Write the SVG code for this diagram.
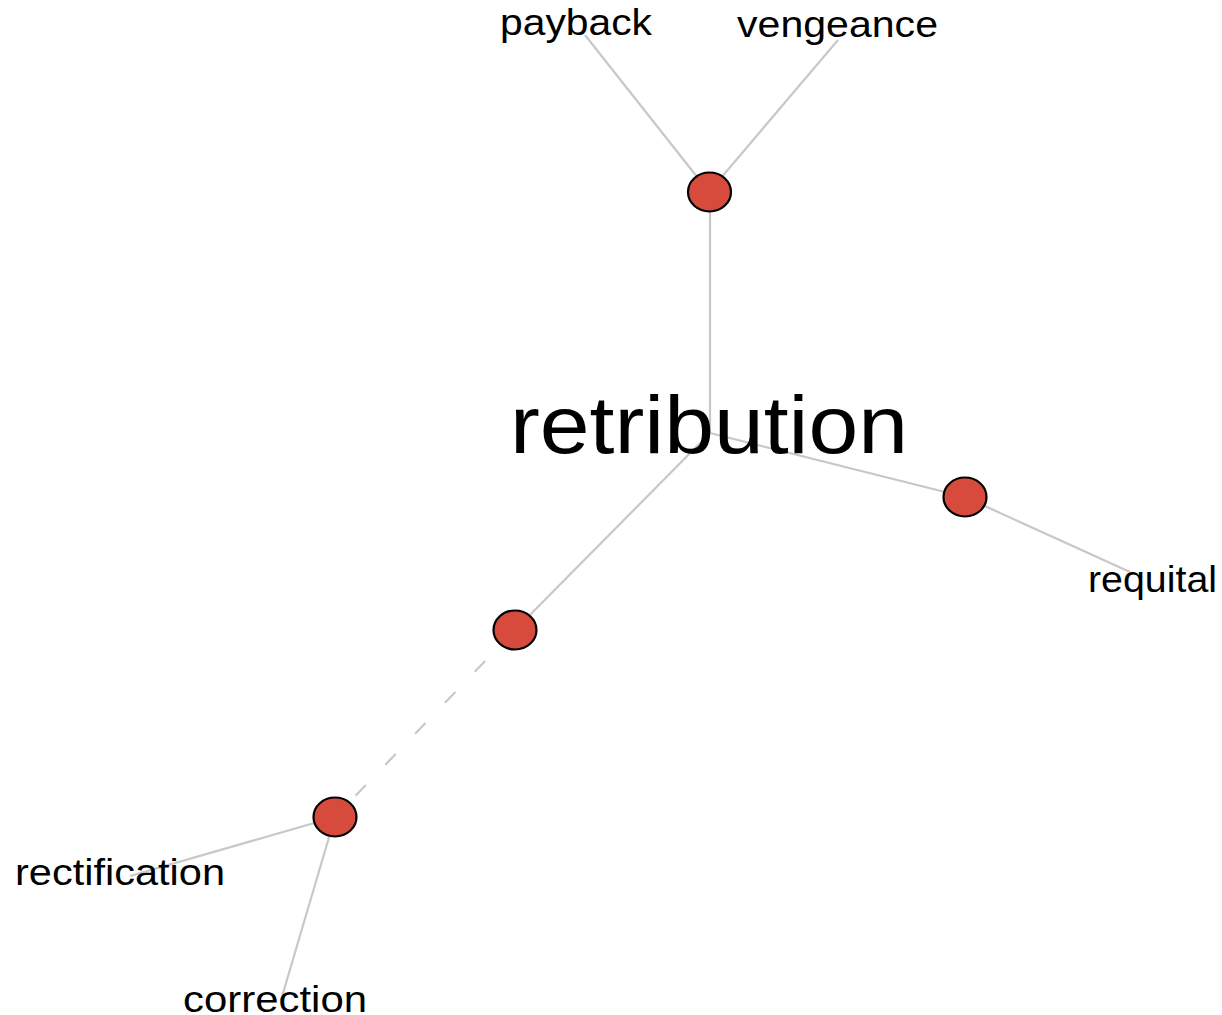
<svg xmlns="http://www.w3.org/2000/svg" width="1222" height="1015" viewBox="0 0 1222 1015">
<style>
.edge{stroke:#c8c8c8;stroke-width:2.2;fill:none}
.dash{stroke-dasharray:15 28}
.node{fill:#d64b3c;stroke:#000;stroke-width:2.2}
.lbl{font-family:"Liberation Sans",Arial,sans-serif;font-size:36px;fill:#000}
.big{font-family:"Liberation Sans",Arial,sans-serif;font-size:82px;fill:#000}
</style>
<rect width="1222" height="1015" fill="#fff"/>
<g id="edges">
<line class="edge" x1="585" y1="35" x2="709" y2="192"/>
<line class="edge" x1="838" y1="40" x2="709" y2="192"/>
<line class="edge" x1="710" y1="192" x2="710" y2="433"/>
<line class="edge" x1="710" y1="433" x2="965" y2="497"/>
<line class="edge" x1="965" y1="497" x2="1130" y2="572"/>
<line class="edge" x1="710" y1="433" x2="515" y2="630"/>
<line class="edge dash" x1="515" y1="630" x2="335" y2="817"/>
<line class="edge" x1="335" y1="817" x2="130" y2="876"/>
<line class="edge" x1="335" y1="817" x2="281" y2="1000"/>
</g>
<g id="n-retribution"><text class="big" x="510" y="453" textLength="398" lengthAdjust="spacingAndGlyphs">retribution</text></g>
<g id="n-hub-top"><ellipse class="node" cx="709.5" cy="192" rx="21.5" ry="19.5"/></g>
<g id="n-hub-right"><ellipse class="node" cx="965" cy="497" rx="21.5" ry="19.5"/></g>
<g id="n-hub-mid"><ellipse class="node" cx="515" cy="630" rx="21.5" ry="19.5"/></g>
<g id="n-hub-low"><ellipse class="node" cx="335" cy="817" rx="21.5" ry="19.5"/></g>
<g id="n-payback"><text class="lbl" x="500" y="35" textLength="152" lengthAdjust="spacingAndGlyphs">payback</text></g>
<g id="n-vengeance"><text class="lbl" x="737" y="37" textLength="201" lengthAdjust="spacingAndGlyphs">vengeance</text></g>
<g id="n-requital"><text class="lbl" x="1088" y="592" textLength="129" lengthAdjust="spacingAndGlyphs">requital</text></g>
<g id="n-rectification"><text class="lbl" x="15" y="885" textLength="210" lengthAdjust="spacingAndGlyphs">rectification</text></g>
<g id="n-correction"><text class="lbl" x="183" y="1012" textLength="184" lengthAdjust="spacingAndGlyphs">correction</text></g>
</svg>
